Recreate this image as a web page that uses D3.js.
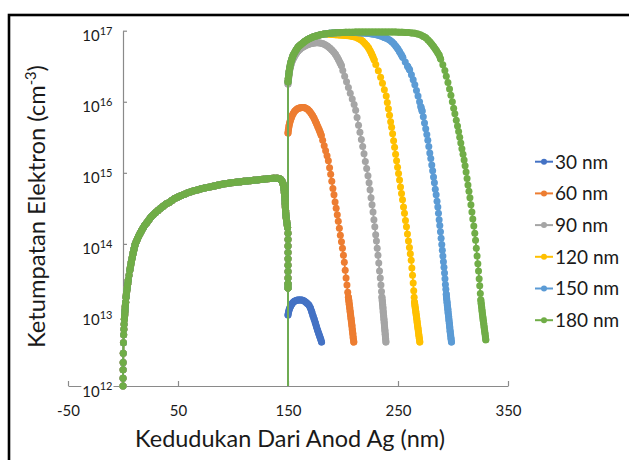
<!DOCTYPE html>
<html>
<head>
<meta charset="utf-8">
<script src="https://cdn.jsdelivr.net/npm/d3@7"></script>
<style>
  html, body { margin: 0; padding: 0; background: #fff; }
  svg { display: block; }
  text { font-family: Lato, "Open Sans", "Noto Sans", sans-serif; fill: #1a1a1a; }
</style>
</head>
<body>
<svg id="chart" width="629" height="460"></svg>
<script>
// Electron density across the Ag / oxide structure for six film thicknesses.
// Every point is [position (nm), log10 of electron density (cm^-3)].

const seriesNames = ["30 nm", "60 nm", "90 nm", "120 nm", "150 nm", "180 nm"];
const seriesColors = ["#4472C4", "#ED7D31", "#A5A5A5", "#FFC000", "#5B9BD5", "#70AD47"];
const xTickValues = [-50, 50, 150, 250, 350];
const yTickExponents = [12, 13, 14, 15, 16, 17];

// First layer (0-150 nm): identical for every thickness
const layerOne = [
  [0,12.00],[0.05,12.11],[0.1,12.23],[0.15,12.33],[0.25,12.46],[0.4,12.61],[0.6,12.72],[0.8,12.80],
  [1.0,12.87],[1.25,12.94],[1.5,13.00],[1.8,13.06],[2.1,13.12],[2.4,13.18],[2.8,13.25],[3.2,13.31],
  [3.7,13.37],[4.2,13.43],[4.8,13.49],[5.5,13.56],[6.2,13.63],[6.9,13.69],[7.6,13.75],[8.4,13.81],
  [9.2,13.87],[10.1,13.93],[11.0,13.99],[12.0,14.03],[13.1,14.07],[14.3,14.11],[15.6,14.15],[17.0,14.19],
  [18.5,14.23],[20.1,14.27],[21.8,14.30],[23.6,14.34],[25.5,14.38],[27.5,14.41],[29.6,14.44],[31.8,14.47],
  [34.1,14.50],[36.5,14.53],[39.0,14.56],[41.6,14.58],[44.3,14.61],[47.1,14.64],[50,14.66],[53,14.68],
  [56,14.70],[59,14.72],[62,14.735],[65,14.75],[68,14.76],[71,14.775],[74,14.785],[77,14.795],
  [80,14.805],[83,14.815],[86,14.825],[89,14.835],[92,14.845],[95,14.85],[98,14.86],[101,14.865],
  [104,14.87],[107,14.875],[110,14.88],[113,14.885],[116,14.89],[119,14.895],[122,14.90],[125,14.905],
  [128,14.91],[131,14.915],[134,14.92],[137,14.922],[140,14.925],[142,14.92],[143.5,14.905],[144.6,14.88],
  [145.4,14.85],[146.0,14.81],[146.4,14.77],[146.7,14.72],[147.0,14.67],[147.2,14.62],[147.4,14.57],
  [147.6,14.52],[147.8,14.47],[148.0,14.42],[148.3,14.38],[148.7,14.33],[149.2,14.28],[149.6,14.23],
  [150,14.15],[150,14.06],[150,13.97],[150,13.88],[150,13.79],[150,13.70],[150,13.61],[150,13.52],
  [150,13.44],[150,13.38]
];

// Second layer (150 nm onwards), one array per thickness; the first point is the interface dip
const layerTwo30 = [
  [150,11],[150,13.00],[150.5,13.04],[151.1,13.075],[151.8,13.105],[152.6,13.13],[153.5,13.155],
  [154.5,13.175],[155.6,13.19],[156.8,13.20],[158.0,13.207],[159.3,13.21],[160.6,13.212],[162.0,13.21],
  [163.4,13.205],[164.8,13.195],[166.2,13.18],[167.6,13.16],[169.0,13.14],[170.3,13.10],[171.5,13.05],
  [172.7,12.99],[173.8,12.94],[174.9,12.885],[175.9,12.835],[176.9,12.785],[177.9,12.74],[178.8,12.70],
  [179.7,12.66],[180.5,12.62]
];

const layerTwo60 = [
  [150,11],[150.0,15.56],[150.4,15.61],[150.9,15.66],[151.5,15.70],[152.2,15.74],[153.0,15.775],
  [153.9,15.81],[154.9,15.84],[156.0,15.865],[157.2,15.885],[158.5,15.90],[159.9,15.91],[161.4,15.917],
  [163.0,15.92],[164.6,15.918],[166.2,15.91],[167.8,15.895],[169.4,15.87],[170.9,15.84],[172.3,15.805],
  [173.6,15.77],[174.8,15.73],[176.0,15.69],[177.1,15.65],[178.2,15.61],[179.2,15.57],[180.2,15.53],
  [181.5,15.46],[182.9,15.38],[184.2,15.31],[185.5,15.24],[186.7,15.17],[187.8,15.07],[188.8,14.98],
  [189.8,14.88],[190.8,14.78],[191.8,14.69],[192.8,14.59],[193.8,14.50],[194.8,14.41],[195.7,14.32],
  [196.7,14.22],[197.6,14.12],[198.6,14.03],[199.5,13.94],[200.4,13.84],[201.2,13.74],[202.0,13.63],
  [202.8,13.52],[203.6,13.42],[204.3,13.32],[204.9,13.25],[205.3,13.20],[205.7,13.15],[206.1,13.10],
  [206.5,13.05],[206.9,13.00],[207.3,12.95],[207.7,12.90],[208.1,12.85],[208.5,12.79],[208.9,12.74],
  [209.3,12.68],[209.8,12.62]
];

const layerTwo90 = [
  [150,11],[150,16.25],[150.3,16.30],[150.7,16.35],[151.1,16.40],[151.6,16.45],[152.2,16.49],
  [152.9,16.53],[153.7,16.57],[154.6,16.60],[155.6,16.63],[156.7,16.66],[157.9,16.69],[159.2,16.715],
  [160.6,16.735],[162.1,16.755],[163.7,16.77],[165.4,16.785],[167.2,16.80],[169.1,16.81],[171.1,16.82],
  [173.2,16.825],[175.4,16.83],[177.6,16.83],[179.8,16.825],[182.0,16.815],[184.1,16.80],[186.1,16.78],
  [188.0,16.755],[189.8,16.73],[191.5,16.70],[193.1,16.67],[194.6,16.63],[196.0,16.59],[197.3,16.55],
  [198.5,16.51],[199.8,16.44],[201.5,16.36],[203.2,16.28],[204.9,16.20],[206.6,16.12],[208.4,16.04],
  [210.1,15.96],[211.5,15.88],[212.8,15.78],[214.1,15.67],[215.4,15.57],[216.7,15.47],[217.9,15.37],
  [219.1,15.27],[220.3,15.16],[221.5,15.06],[222.7,14.96],[223.7,14.86],[224.6,14.76],[225.5,14.65],
  [226.4,14.55],[227.3,14.45],[228.1,14.34],[228.9,14.24],[229.7,14.13],[230.4,14.04],[231.1,13.94],
  [231.8,13.84],[232.5,13.73],[233.2,13.62],[233.9,13.52],[234.5,13.42],[235.0,13.33],[235.4,13.25],
  [235.7,13.20],[236.0,13.15],[236.3,13.10],[236.6,13.04],[236.9,12.99],[237.2,12.94],[237.5,12.89],
  [237.8,12.83],[238.1,12.78],[238.4,12.73],[238.7,12.67],[239.0,12.62]
];

const layerTwo120 = [
  [150,11],[150,16.28],[150.3,16.33],[150.7,16.38],[151.1,16.43],[151.6,16.48],[152.2,16.53],
  [152.9,16.57],[153.7,16.61],[154.6,16.65],[155.6,16.68],[156.7,16.71],[157.9,16.74],[159.2,16.77],
  [160.6,16.79],[162.1,16.81],[163.7,16.83],[165.4,16.85],[167.2,16.87],[169.1,16.885],[171.1,16.90],
  [173.2,16.915],[175.4,16.925],[177.7,16.935],[180.1,16.945],[182.6,16.952],[185.2,16.952],[187.9,16.95],
  [190.7,16.947],[193.6,16.944],[196.6,16.94],[199.6,16.937],[202.6,16.933],[205.6,16.928],[208.4,16.92],
  [211.1,16.91],[213.6,16.895],[215.9,16.875],[218.0,16.85],[219.9,16.82],[221.6,16.79],[223.1,16.76],
  [224.5,16.72],[225.8,16.68],[227.0,16.64],[228.3,16.59],[229.8,16.525],[232.1,16.435],[234.2,16.345],
  [235.9,16.26],[237.6,16.17],[239.3,16.08],[240.3,15.99],[241.3,15.90],[242.3,15.81],[243.3,15.72],
  [244.2,15.64],[245.1,15.55],[246.0,15.45],[246.9,15.36],[247.8,15.26],[248.7,15.17],[249.6,15.08],
  [250.5,14.99],[251.4,14.90],[252.3,14.80],[253.2,14.71],[254.1,14.62],[255.0,14.52],[255.9,14.43],
  [256.8,14.33],[257.7,14.24],[258.6,14.14],[259.5,14.04],[260.4,13.95],[261.2,13.86],[262.0,13.77],
  [262.6,13.66],[263.2,13.56],[263.8,13.45],[264.3,13.34],[264.7,13.25],[265.0,13.18],[265.4,13.13],
  [265.8,13.09],[266.2,13.04],[266.6,13.00],[267.0,12.95],[267.4,12.90],[267.8,12.85],[268.2,12.81],
  [268.6,12.76],[269.0,12.71],[269.4,12.67],[269.8,12.62]
];

const layerTwo150 = [
  [150,11],[150,16.28],[150.3,16.33],[150.7,16.38],[151.1,16.43],[151.6,16.48],[152.2,16.53],
  [152.9,16.57],[153.7,16.61],[154.6,16.65],[155.6,16.68],[156.7,16.71],[157.9,16.74],[159.2,16.77],
  [160.6,16.79],[162.1,16.81],[163.7,16.83],[165.4,16.85],[167.2,16.87],[169.1,16.885],[171.1,16.90],
  [173.2,16.915],[175.4,16.925],[177.7,16.935],[180.1,16.945],[182.6,16.952],[185.2,16.958],[187.9,16.963],
  [190.7,16.967],[193.6,16.97],[196.6,16.972],[199.6,16.974],[202.6,16.975],[205.6,16.975],[208.6,16.975],
  [211.6,16.974],[214.6,16.972],[217.6,16.969],[220.6,16.965],[223.6,16.96],[226.6,16.953],[229.5,16.945],
  [232.3,16.935],[235.0,16.922],[237.6,16.905],[240.0,16.89],[242.3,16.87],[244.4,16.845],[246.3,16.815],
  [248.1,16.78],[249.8,16.745],[251.4,16.705],[252.9,16.665],[254.3,16.625],[256.6,16.56],[258.7,16.50],
  [260.5,16.45],[262.2,16.38],[263.8,16.31],[265.3,16.24],[266.8,16.16],[268.2,16.08],[269.6,16.00],
  [270.8,15.93],[271.9,15.87],[273.0,15.79],[274.1,15.70],[275.2,15.62],[276.2,15.54],[277.1,15.46],
  [278.0,15.37],[278.9,15.28],[279.8,15.20],[280.7,15.11],[281.5,15.03],[282.3,14.94],[283.1,14.86],
  [283.9,14.77],[284.7,14.69],[285.5,14.60],[286.2,14.52],[286.8,14.43],[287.4,14.34],[288.0,14.26],
  [288.6,14.17],[289.2,14.08],[289.8,13.99],[290.3,13.91],[290.8,13.83],[291.3,13.75],[291.8,13.67],
  [292.3,13.59],[292.7,13.51],[293.1,13.43],[293.5,13.36],[293.9,13.29],[294.2,13.23],[294.6,13.18],
  [294.9,13.13],[295.3,13.08],[295.6,13.03],[296.0,12.98],[296.3,12.93],[296.7,12.88],[297.0,12.83],
  [297.4,12.77],[297.8,12.72],[298.2,12.67],[298.6,12.62]
];

const layerTwo180 = [
  [150,11],[150,16.28],[150.3,16.33],[150.7,16.38],[151.1,16.43],[151.6,16.48],[152.2,16.53],
  [152.9,16.57],[153.7,16.61],[154.6,16.65],[155.6,16.68],[156.7,16.71],[157.9,16.74],[159.2,16.77],
  [160.6,16.79],[162.1,16.81],[163.7,16.83],[165.4,16.85],[167.2,16.87],[169.1,16.885],[171.1,16.90],
  [173.2,16.915],[175.4,16.925],[177.7,16.935],[180.1,16.945],[182.6,16.952],[185.2,16.958],[187.9,16.963],
  [190.7,16.967],[193.6,16.970],[196.6,16.973],[199.6,16.975],[202.6,16.977],[205.6,16.978],[208.6,16.979],
  [211.6,16.98],[214.6,16.98],[217.6,16.98],[220.6,16.98],[223.6,16.98],[226.6,16.98],[229.6,16.98],
  [232.6,16.98],[235.6,16.98],[238.6,16.98],[241.6,16.98],[244.6,16.98],[247.6,16.98],[250.6,16.979],
  [253.6,16.978],[256.6,16.976],[259.6,16.973],[262.6,16.969],[265.4,16.963],[268.1,16.953],[270.7,16.94],
  [273.1,16.92],[275.3,16.90],[277.3,16.87],[279.1,16.84],[280.7,16.81],[282.2,16.78],[283.6,16.75],
  [284.9,16.72],[286.1,16.69],[287.3,16.66],[288.75,16.60],[290.75,16.52],[292.6,16.44],[293.9,16.36],
  [295.4,16.27],[296.85,16.18],[298.1,16.09],[299.4,16.00],[300.6,15.91],[301.7,15.83],[303.0,15.74],
  [304.1,15.66],[305.1,15.58],[306.1,15.50],[307.1,15.42],[308.1,15.34],[309.1,15.26],[310.1,15.18],
  [311.0,15.10],[311.9,15.01],[312.8,14.92],[313.6,14.83],[314.5,14.74],[315.4,14.65],[316.3,14.55],
  [317.2,14.45],[318.0,14.35],[318.9,14.25],[319.8,14.15],[320.5,14.05],[321.2,13.94],[321.9,13.83],
  [322.6,13.72],[323.2,13.62],[323.8,13.51],[324.3,13.41],[324.85,13.30],[325.3,13.21],[325.65,13.16],
  [326.05,13.11],[326.4,13.06],[326.8,13.01],[327.2,12.96],[327.5,12.92],[327.9,12.88],[328.3,12.83],
  [328.7,12.78],[329.1,12.74],[329.5,12.69],[329.8,12.65]
];

const layerTwo = [layerTwo30, layerTwo60, layerTwo90, layerTwo120, layerTwo150, layerTwo180];

// ---------------------------------------------------------------------------
const svg = d3.select("#chart");
const markerRadius = 3.5;

// outer chart border
svg.append("rect")
  .attr("x", 9).attr("y", 15).attr("width", 640).attr("height", 470)
  .attr("fill", "#fff").attr("stroke", "#000").attr("stroke-width", 2.6);

const x = d3.scaleLinear().domain([-50, 350]).range([68, 508]);
const y = d3.scaleLog().domain([1e12, 1e17]).range([386, 30.7]);
const axisColor = "#8a8a8a";

const defs = svg.append("defs");
defs.append("clipPath").attr("id", "clipLines")
  .append("rect").attr("x", 60).attr("y", 0).attr("width", 569).attr("height", y(1e12));
defs.append("clipPath").attr("id", "clipMarks")
  .append("rect").attr("x", 60).attr("y", 0).attr("width", 569).attr("height", y(1e12) + 4);

// x axis (ticks point inward)
const xAxis = svg.append("g")
  .attr("transform", `translate(0,${y(1e12)})`)
  .call(d3.axisBottom(x).tickValues(xTickValues).tickSizeInner(-5).tickSizeOuter(0).tickPadding(19.4).tickFormat(d => String(d)));
xAxis.select(".domain").attr("stroke", axisColor).attr("stroke-width", 1.2);
xAxis.selectAll(".tick line").attr("stroke", axisColor).attr("stroke-width", 1.2);
xAxis.selectAll(".tick text").attr("font-size", 15).attr("fill", "#1a1a1a")
  .attr("font-family", 'Lato, "Open Sans", sans-serif');

// y axis at position 0 nm (ticks point inward)
const yAxis = svg.append("g")
  .attr("transform", `translate(${x(0)},0)`)
  .call(d3.axisLeft(y).tickValues(yTickExponents.map(e => Math.pow(10, e))).tickSizeInner(-4).tickSizeOuter(0).tickFormat(""));
yAxis.select(".domain").attr("stroke", axisColor).attr("stroke-width", 1.2);
yAxis.selectAll(".tick line").attr("stroke", axisColor).attr("stroke-width", 1.2);

// power-of-ten tick labels with a white backing so the x axis passes behind them
const yLabels = svg.append("g");
yTickExponents.forEach(e => {
  const g = yLabels.append("g");
  const t = g.append("text")
    .attr("x", x(0) - 10.5)
    .attr("y", y(Math.pow(10, e)) + 10.5)
    .attr("text-anchor", "end")
    .attr("font-size", 15);
  t.append("tspan").text("10");
  t.append("tspan").attr("font-size", 11).attr("dy", -6.5).text(e);
  const b = t.node().getBBox();
  g.insert("rect", "text")
    .attr("x", b.x - 1).attr("y", b.y + 2).attr("width", b.width + 2).attr("height", b.height - 3)
    .attr("fill", "#fff");
});

// split a series into runs whose markers sit close enough to merge into a solid band
function denseRuns(pts, maxGap) {
  const runs = [];
  let run = [pts[0]];
  for (let k = 1; k < pts.length; k++) {
    const a = pts[k - 1], b = pts[k];
    const dx = x(b[0]) - x(a[0]);
    const dy = y(Math.pow(10, b[1])) - y(Math.pow(10, a[1]));
    if (Math.hypot(dx, dy) <= maxGap && b[1] >= 12 && a[1] >= 12) {
      run.push(b);
    } else {
      if (run.length > 1) runs.push(run);
      run = [b];
    }
  }
  if (run.length > 1) runs.push(run);
  return runs;
}

// series: shared first layer followed by each thickness' second layer
const line = d3.line().x(d => x(d[0])).y(d => y(Math.pow(10, d[1])));
const plot = svg.append("g");
seriesNames.forEach((name, i) => {
  const pts = layerOne.concat(layerTwo[i]);
  const g = plot.append("g").attr("class", "series");
  g.append("path")
    .attr("d", line(pts))
    .attr("fill", "none")
    .attr("stroke", seriesColors[i])
    .attr("stroke-width", 1.8)
    .attr("clip-path", "url(#clipLines)");
  const marks = g.append("g").attr("clip-path", "url(#clipMarks)");
  denseRuns(pts, 4.8).forEach(run => {
    marks.append("path")
      .attr("d", line(run))
      .attr("fill", "none")
      .attr("stroke", seriesColors[i])
      .attr("stroke-width", markerRadius * 2)
      .attr("stroke-linecap", "round")
      .attr("stroke-linejoin", "round");
  });
  marks.selectAll("circle")
    .data(pts.filter(d => d[1] >= 12))
    .join("circle")
    .attr("cx", d => x(d[0]))
    .attr("cy", d => y(Math.pow(10, d[1])))
    .attr("r", markerRadius)
    .attr("fill", seriesColors[i]);
});

// legend
const legend = svg.append("g");
seriesNames.forEach((name, i) => {
  const cy = 161.7 + i * 31.7;
  legend.append("line")
    .attr("x1", 535).attr("x2", 553).attr("y1", cy).attr("y2", cy)
    .attr("stroke", seriesColors[i]).attr("stroke-width", 2);
  legend.append("circle").attr("cx", 544).attr("cy", cy).attr("r", 3).attr("fill", seriesColors[i]);
  legend.append("text")
    .attr("x", 555).attr("y", cy).attr("dy", "0.36em")
    .attr("font-size", 19)
    .text(name);
});

// fit a title to a given length by scaling its font size
function fitText(sel, target) {
  const len = sel.node().getComputedTextLength();
  const fs = parseFloat(sel.attr("font-size"));
  sel.attr("font-size", fs * target / len);
}

const xTitle = svg.append("text")
  .attr("x", 290).attr("y", 446.5)
  .attr("text-anchor", "middle")
  .attr("font-size", 21)
  .text("Kedudukan Dari Anod Ag (nm)");
fitText(xTitle, 310);

const yTitle = svg.append("text")
  .attr("transform", "translate(45,206.5) rotate(-90)")
  .attr("text-anchor", "middle")
  .attr("font-size", 21);
yTitle.append("tspan").text("Ketumpatan Elektron (cm");
yTitle.append("tspan").attr("font-size", 13).attr("dy", -8).text("-3");
yTitle.append("tspan").attr("dy", 8).text(")");
(function () {
  const len = yTitle.node().getComputedTextLength();
  const k = 283 / len;
  yTitle.attr("font-size", 21 * k);
  yTitle.select("tspan:nth-child(2)").attr("font-size", 13 * k).attr("dy", -8 * k);
  yTitle.select("tspan:nth-child(3)").attr("dy", 8 * k);
})();
</script>
</body>
</html>
